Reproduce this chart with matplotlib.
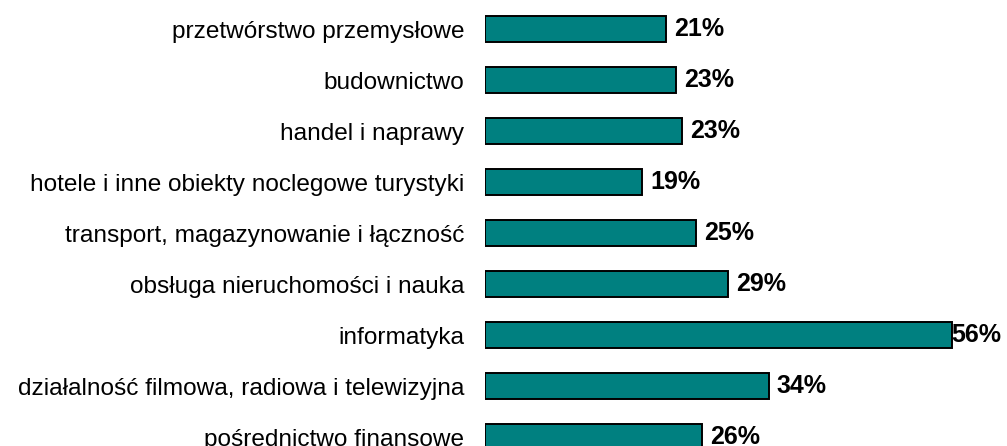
import matplotlib
matplotlib.use("Agg")
import matplotlib.pyplot as plt

categories = [
    "przetwórstwo przemysłowe",
    "budownictwo",
    "handel i naprawy",
    "hotele i inne obiekty noclegowe turystyki",
    "transport, magazynowanie i łączność",
    "obsługa nieruchomości i nauka",
    "informatyka",
    "działalność filmowa, radiowa i telewizyjna",
    "pośrednictwo finansowe",
]
values = [21.7, 22.9, 23.6, 18.8, 25.3, 29.1, 56.0, 34.0, 26.0]
value_labels = ["21%", "23%", "23%", "19%", "25%", "29%", "56%", "34%", "26%"]

plt.rcParams['font.family'] = ['Liberation Sans', 'DejaVu Sans']

W, H, DPI = 1007, 446, 100
fig = plt.figure(figsize=(W / DPI, H / DPI), dpi=DPI)
fig.patch.set_facecolor('white')

ax = fig.add_axes([485 / W, -0.0377, 500.4 / W, 1.0294])
pos = list(range(len(categories)))
ax.barh(pos, values, height=0.51, color='#008080', edgecolor='black', linewidth=1.4)
ax.set_xlim(0, 60)
ax.set_ylim(len(categories) - 0.5, -0.5)

ax.set_yticks(pos)
ax.set_yticklabels(categories, fontsize=17.6)
ax.tick_params(axis='y', length=0, pad=15)
ax.set_xticks([])
for s in ax.spines.values():
    s.set_visible(False)

fig.canvas.draw()
renderer = fig.canvas.get_renderer()
for p, v, lab in zip(pos, values, value_labels):
    t = ax.annotate(lab, xy=(v, p), xytext=(6, 0), textcoords='offset points',
                    ha='left', va='center', fontsize=18, fontweight='bold',
                    annotation_clip=False)
    bb = t.get_window_extent(renderer)
    if bb.x1 > W - 6:
        t.set_position((6 - (bb.x1 - (W - 6)) * 72 / DPI, 0))

fig.savefig("out.png", dpi=DPI)
